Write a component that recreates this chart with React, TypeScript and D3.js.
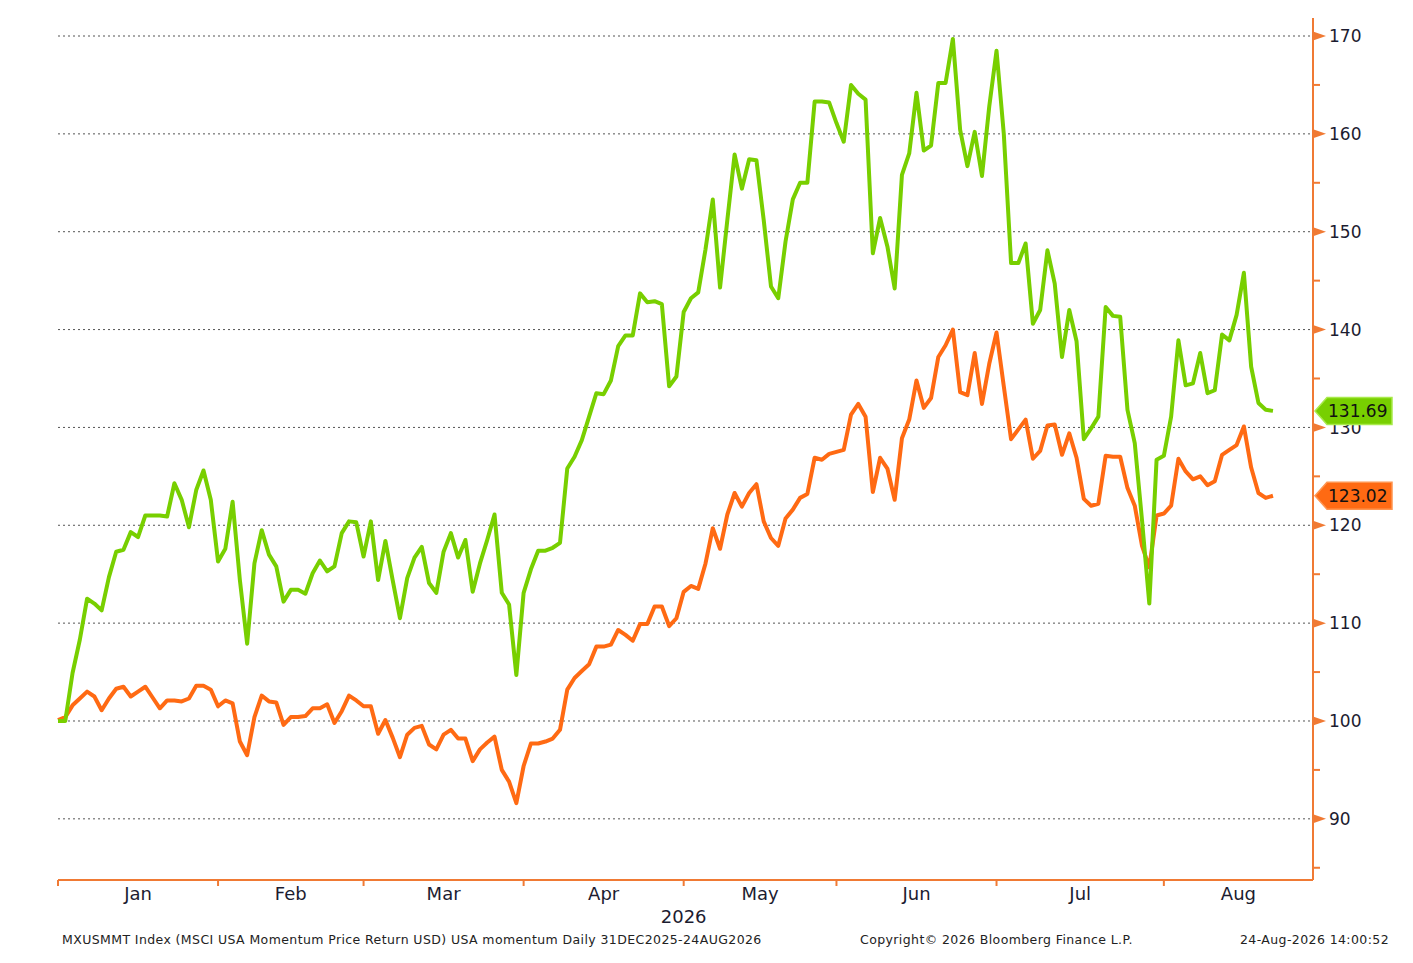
import * as d3 from "d3";
import { useEffect, useRef } from "react";

// MSCI USA Momentum (green) vs MSCI USA (orange), rebased to 100 on 31DEC2025
// one value per weekday, 31DEC2025 .. 21AUG2026
const momentum = [
  100.0, 100.0, 104.9, 108.3, 112.5, 112.0, 111.3, 114.7, 117.3, 117.5,
  119.3, 118.8, 121.0, 121.0, 121.0, 120.9, 124.3, 122.6, 119.8, 123.6,
  125.6, 122.6, 116.3, 117.6, 122.4, 114.4, 107.9, 116.1, 119.5, 117.0,
  115.8, 112.2, 113.4, 113.4, 113.0, 115.1, 116.4, 115.3, 115.8, 119.2,
  120.4, 120.3, 116.8, 120.4, 114.4, 118.4, 114.4, 110.5, 114.6, 116.7,
  117.8, 114.1, 113.1, 117.3, 119.2, 116.7, 118.5, 113.2, 116.1, 118.5,
  121.1, 113.1, 111.9, 104.7, 113.1, 115.5, 117.4, 117.4, 117.7, 118.2,
  125.8, 127.0, 128.7, 131.1, 133.5, 133.4, 134.8, 138.3, 139.4, 139.4,
  143.7, 142.8, 142.9, 142.6, 134.2, 135.2, 141.8, 143.2, 143.8, 148.2,
  153.3, 144.3, 151.2, 157.9, 154.4, 157.4, 157.3, 151.2, 144.4, 143.2,
  149.0, 153.3, 155.0, 155.0, 163.3, 163.3, 163.2, 161.1, 159.2, 165.0,
  164.1, 163.5, 147.8, 151.4, 148.5, 144.2, 155.8, 158.0, 164.2, 158.3,
  158.8, 165.2, 165.2, 169.7, 160.4, 156.7, 160.2, 155.7, 162.8, 168.5,
  160.0, 146.8, 146.8, 148.8, 140.6, 142.0, 148.1, 144.7, 137.2, 142.0,
  138.8, 128.8, 129.9, 131.1, 142.3, 141.4, 141.3, 131.8, 128.4, 120.5,
  112.0, 126.7, 127.1, 131.1, 138.9, 134.3, 134.5, 137.6, 133.5, 133.8,
  139.5, 138.9, 141.5, 145.8, 136.2, 132.5, 131.8, 131.69,
];

const market = [
  100.1, 100.4, 101.6, 102.3, 103.0, 102.5, 101.1, 102.3, 103.3, 103.5,
  102.5, 103.0, 103.5, 102.4, 101.3, 102.1, 102.1, 102.0, 102.3, 103.6,
  103.6, 103.2, 101.5, 102.1, 101.8, 97.9, 96.5, 100.4, 102.6, 102.0,
  101.9, 99.6, 100.4, 100.4, 100.5, 101.3, 101.3, 101.7, 99.8, 101.0,
  102.6, 102.1, 101.5, 101.5, 98.7, 100.1, 98.3, 96.3, 98.6, 99.3,
  99.5, 97.6, 97.1, 98.6, 99.1, 98.2, 98.2, 95.9, 97.1, 97.8,
  98.4, 95.0, 93.8, 91.6, 95.4, 97.7, 97.7, 97.9, 98.2, 99.1,
  103.2, 104.4, 105.1, 105.8, 107.6, 107.6, 107.8, 109.3, 108.8, 108.2,
  109.9, 109.9, 111.7, 111.7, 109.7, 110.5, 113.2, 113.8, 113.5, 116.1,
  119.7, 117.6, 121.1, 123.3, 121.9, 123.3, 124.2, 120.4, 118.7, 117.9,
  120.7, 121.6, 122.8, 123.2, 126.9, 126.7, 127.3, 127.5, 127.7, 131.3,
  132.4, 131.1, 123.4, 126.9, 125.8, 122.6, 128.9, 130.8, 134.8, 132.0,
  133.0, 137.2, 138.4, 140.0, 133.6, 133.3, 137.6, 132.4, 136.5, 139.7,
  134.2, 128.8, 129.8, 130.8, 126.8, 127.6, 130.2, 130.3, 127.2, 129.4,
  126.9, 122.7, 122.0, 122.2, 127.1, 127.0, 127.0, 123.8, 122.0, 117.9,
  115.7, 121.0, 121.2, 122.0, 126.8, 125.5, 124.7, 125.0, 124.1, 124.5,
  127.2, 127.7, 128.2, 130.1, 125.9, 123.3, 122.8, 123.02,
];

const monthLabels = ["Jan", "Feb", "Mar", "Apr", "May", "Jun", "Jul", "Aug"];
const yTicks = [90, 100, 110, 120, 130, 140, 150, 160, 170];
const yMinorTicks = [85, 95, 105, 115, 125, 135, 145, 155, 165];
const yearLabel = "2026";
const footerLeft =
  "MXUSMMT Index (MSCI USA Momentum Price Return USD) USA momentum Daily 31DEC2025-24AUG2026";
const footerMid = "Copyright\u00a9 2026 Bloomberg Finance L.P.";
const footerRight = "24-Aug-2026 14:00:52";

const GREEN = "#78cf00";
const ORANGE = "#ff6a13";
const AXIS = "#f07a34";
const TEXT = "#1c1c30";
const FONT = "DejaVu Sans, Verdana, sans-serif";

// weekday calendar starting 31DEC2025 (Bloomberg plots one slot per weekday)
function weekdays(start, n) {
  const out = [];
  const d = new Date(start);
  while (out.length < n) {
    const wd = d.getDay();
    if (wd !== 0 && wd !== 6) out.push(new Date(d));
    d.setDate(d.getDate() + 1);
  }
  return out;
}

export default function App() {
  const ref = useRef(null);

  useEffect(() => {
    document.body.style.margin = "0";
    const svg = d3.select(ref.current);
    svg.selectAll("*").remove();

    const width = 1413;
    const height = 963;
    const margin = { top: 18, right: 100, bottom: 83, left: 58 };
    const plotRight = width - margin.right;
    const plotBottom = height - margin.bottom;
    const lastSlot = 172.5;

    const dates = weekdays(new Date(2025, 11, 31), Math.ceil(lastSlot) + 2);

    const x = d3.scaleLinear().domain([0, lastSlot]).range([margin.left, plotRight]);
    const y = d3.scaleLinear().domain([83.75, 171.84]).range([plotBottom, margin.top]);

    // month boundaries: last weekday of each month
    const monthEnds = [];
    for (let i = 0; i < dates.length - 1; i++) {
      if (dates[i].getMonth() !== dates[i + 1].getMonth() && i <= lastSlot) monthEnds.push(i);
    }

    // gridlines
    svg
      .append("g")
      .selectAll("line")
      .data(yTicks)
      .enter()
      .append("line")
      .attr("x1", margin.left)
      .attr("x2", plotRight)
      .attr("y1", (d) => y(d))
      .attr("y2", (d) => y(d))
      .attr("stroke", "#555")
      .attr("stroke-width", 1)
      .attr("stroke-dasharray", "2,3");

    // lines
    const line = d3
      .line()
      .x((d, i) => x(i))
      .y((d) => y(d));

    svg
      .append("path")
      .datum(market)
      .attr("fill", "none")
      .attr("stroke", ORANGE)
      .attr("stroke-width", 4)
      .attr("stroke-linejoin", "round")
      .attr("d", line);

    svg
      .append("path")
      .datum(momentum)
      .attr("fill", "none")
      .attr("stroke", GREEN)
      .attr("stroke-width", 4)
      .attr("stroke-linejoin", "round")
      .attr("d", line);

    // right axis
    svg
      .append("line")
      .attr("x1", plotRight)
      .attr("x2", plotRight)
      .attr("y1", margin.top)
      .attr("y2", plotBottom)
      .attr("stroke", AXIS)
      .attr("stroke-width", 2);

    svg
      .append("g")
      .selectAll("line")
      .data(yMinorTicks)
      .enter()
      .append("line")
      .attr("x1", plotRight)
      .attr("x2", plotRight + 7)
      .attr("y1", (d) => y(d))
      .attr("y2", (d) => y(d))
      .attr("stroke", AXIS)
      .attr("stroke-width", 2);

    const yt = svg.append("g").selectAll("g").data(yTicks).enter().append("g")
      .attr("transform", (d) => `translate(${plotRight},${y(d)})`);
    yt.append("path").attr("d", "M0,-4.5L13,0L0,4.5Z").attr("fill", AXIS);
    yt.append("text")
      .attr("x", 16)
      .attr("dy", "0.36em")
      .attr("font-family", FONT)
      .attr("font-size", 17)
      .attr("fill", TEXT)
      .text((d) => d);

    // last value badges (drawn over the axis labels, as in the terminal)
    const badges = [
      { v: momentum[momentum.length - 1], fill: GREEN, stroke: "#a8ea4a" },
      { v: market[market.length - 1], fill: ORANGE, stroke: "#ff9550" },
    ];
    const bg = svg.append("g").selectAll("g").data(badges).enter().append("g")
      .attr("transform", (d) => `translate(${plotRight + 2},${y(d.v)})`);
    bg.append("path")
      .attr("d", "M0,0L12,-13.5L77,-13.5L77,13.5L12,13.5Z")
      .attr("fill", (d) => d.fill)
      .attr("stroke", (d) => d.stroke)
      .attr("stroke-width", 1.5);
    bg.append("text")
      .attr("x", 13)
      .attr("dy", "0.36em")
      .attr("font-family", FONT)
      .attr("font-size", 17)
      .attr("fill", "#111")
      .text((d) => d.v.toFixed(2));

    // bottom axis
    svg
      .append("line")
      .attr("x1", margin.left)
      .attr("x2", plotRight)
      .attr("y1", plotBottom)
      .attr("y2", plotBottom)
      .attr("stroke", AXIS)
      .attr("stroke-width", 2);

    svg
      .append("g")
      .selectAll("line")
      .data(monthEnds)
      .enter()
      .append("line")
      .attr("x1", (d) => x(d))
      .attr("x2", (d) => x(d))
      .attr("y1", plotBottom)
      .attr("y2", plotBottom + 6)
      .attr("stroke", AXIS)
      .attr("stroke-width", 2);

    const bounds = [...monthEnds.map((d) => x(d)), plotRight];
    svg
      .append("g")
      .selectAll("text")
      .data(monthLabels)
      .enter()
      .append("text")
      .attr("x", (d, i) => (bounds[i] + bounds[i + 1]) / 2)
      .attr("y", plotBottom + 20)
      .attr("text-anchor", "middle")
      .attr("font-family", FONT)
      .attr("font-size", 18)
      .attr("fill", TEXT)
      .text((d) => d);

    svg
      .append("text")
      .attr("x", (bounds[4] + bounds[3]) / 2 + 80)
      .attr("y", plotBottom + 43)
      .attr("text-anchor", "middle")
      .attr("font-family", FONT)
      .attr("font-size", 18)
      .attr("fill", TEXT)
      .text(yearLabel);

    // footer
    const footer = [
      { t: footerLeft, x: 62, anchor: "start" },
      { t: footerMid, x: 860, anchor: "start" },
      { t: footerRight, x: 1389, anchor: "end" },
    ];
    svg
      .append("g")
      .selectAll("text")
      .data(footer)
      .enter()
      .append("text")
      .attr("x", (d) => d.x)
      .attr("y", 944)
      .attr("text-anchor", (d) => d.anchor)
      .attr("font-family", FONT)
      .attr("font-size", 12.5)
      .attr("letter-spacing", 0.4)
      .attr("fill", "#222")
      .text((d) => d.t);
  }, []);

  return <svg ref={ref} width={1413} height={963} style={{ display: "block", background: "#fff" }} />;
}
